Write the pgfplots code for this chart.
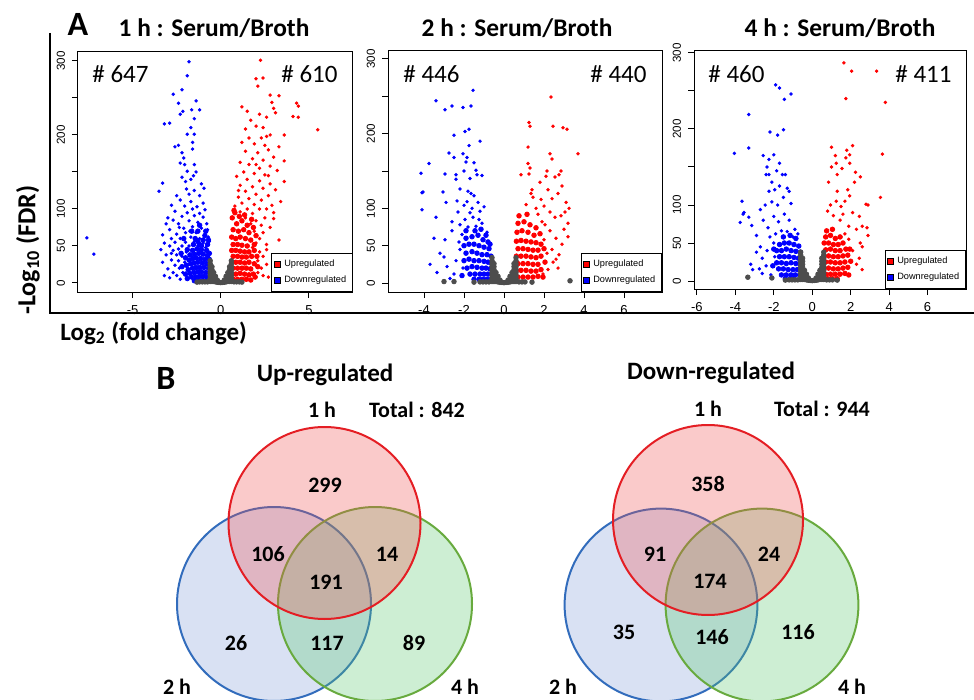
\documentclass[border=0pt]{standalone}
\usepackage{pgfplots}
\pgfplotsset{compat=1.18}
\usepackage{fontspec}
\setmainfont{Carlito}
\newfontfamily\arial{Liberation Sans}

\definecolor{rdot}{RGB}{255,0,0}
\definecolor{bdot}{RGB}{0,0,255}
\definecolor{gdot}{RGB}{77,77,77}
\definecolor{vred}{RGB}{228,30,36}
\definecolor{vblue}{RGB}{50,108,188}
\definecolor{vgreen}{RGB}{104,170,62}
\definecolor{fred}{RGB}{240,80,80}
\definecolor{fblue}{RGB}{80,120,200}
\definecolor{fgreen}{RGB}{90,200,110}

\pgfplotsset{
  volc/.style={
    scale only axis, anchor=south west,
    axis line style={line width=0.5pt},
    tick align=outside, xtick pos=bottom, ytick pos=left,
    major tick length=3pt,
    every tick/.style={black, line width=0.5pt},
    ytick={0,50,...,300}, yticklabels={0,50,100,{},200,{},300},
    xticklabel style={font=\arial\fontsize{6.5}{7}\selectfont},
    yticklabel style={font=\arial\fontsize{5.8}{6}\selectfont, rotate=90, anchor=south},
    legend style={at={(1,0)}, anchor=south east,
      font=\arial\fontsize{4.6}{5}\selectfont, draw=black, line width=0.4pt,
      inner sep=1.2pt, row sep=-0.8pt, cells={anchor=west}},
  },
  sp/.style={only marks, mark=*, mark size=0.65pt, forget plot},
  dn/.style={only marks, mark=*, mark size=1.15pt, forget plot},
}

\newcommand{\legendUD}{%
  \addlegendimage{only marks, mark=square*, mark size=1.5pt, mark options={fill=rdot, draw=black, line width=0.2pt}}
  \addlegendentry{Upregulated}
  \addlegendimage{only marks, mark=square*, mark size=1.5pt, mark options={fill=bdot, draw=black, line width=0.2pt}}
  \addlegendentry{Downregulated}}

\begin{document}
\begin{tikzpicture}
\path[use as bounding box] (0,0) rectangle (487pt,-350pt);

% ---------- 1 h ----------
\begin{axis}[volc, at={(39pt,-146pt)}, width=137.5pt, height=120.5pt,
  xmin=-8.1, xmax=7.5, ymin=-12.2, ymax=313.5,
  xtick={-5,0,5}, xticklabels={-5,0,5}]
\legendUD
\addplot[sp, bdot] coordinates {
(-7.6,61) (-7.2,39)
(-1.8,299) (-1.9,280) (-2.2,261) (-2.7,255) (-1.4,246) (-2.4,243) (-1.65,234) (-1.2,234) (-2.15,232) (-2.3,228)
(-3.2,215) (-2.9,216) (-1.5,222) (-1.7,210) (-1.5,201) (-1.9,201) (-2.4,186) (-2.6,184) (-1.6,190) (-1.6,181)
(-2.2,176) (-2.1,169) (-2.3,162) (-2.05,160) (-1.5,160) (-1.4,150) (-1.55,145) (-1.9,151) (-2.2,143) (-1.7,140)
(-3.3,135) (-3.5,124) (-2.0,137) (-1.95,127) (-1.1,134) (-0.95,128) (-1.5,125) (-1.8,120) (-2.5,118) (-1.2,118)
(-2.3,112) (-1.7,110) (-1.0,108) (-2.8,105) (-2.05,104) (-1.35,103) (-1.6,100) (-2.6,97) (-0.9,99) (-1.9,95)
(-1.2,94) (-3.0,88) (-2.7,85) (-2.2,90) (-1.5,91) (-1.0,89) (-3.1,80) (-2.4,80) (-1.8,84) (-1.3,82)
(-0.8,80) (-2.9,72) (-2.1,74) (-1.6,76) (-1.1,74) (-0.75,72) (-3.3,65) (-2.5,66) (-2.0,68) (-1.4,68)
(-0.9,66) (-2.8,60) (-2.3,60) (-1.7,62) (-1.2,60) (-0.7,62) (-3.2,54) (-2.6,55) (-2.0,55) (-1.5,56)
(-1.0,54) (-0.65,56) (-2.9,50) (-2.2,50) (-1.8,50) (-1.3,50) (-0.85,48) (-3.4,45) (-2.7,44) (-2.4,46)
(-3.1,38) (-2.5,38) (-2.8,31) (-3.3,28) (-2.6,24) (-3.0,19) (-2.7,14) (-3.2,10) (-2.9,7) (-2.4,30)
(-2.35,20) (-2.5,10) (-2.2,36) (-2.05,28) (-2.15,14) (-1.95,42) (-2.3,5) (-2.8,40) (-1.75,70) (-2.35,75)
};
\addplot[dn, bdot] coordinates {
(-1.9,45) (-1.6,44) (-1.35,46) (-1.1,45) (-0.8,44) (-0.65,40)
(-1.75,38) (-1.5,39) (-1.25,40) (-1.0,39) (-0.75,37)
(-2.0,34) (-1.8,31) (-1.6,33) (-1.4,34) (-1.15,33) (-0.9,32) (-0.65,32)
(-1.95,24) (-1.7,26) (-1.5,27) (-1.3,28) (-1.05,27) (-0.8,26) (-0.62,25)
(-1.85,18) (-1.6,20) (-1.4,21) (-1.2,21) (-0.95,21) (-0.7,20)
(-2.0,12) (-1.75,13) (-1.5,14) (-1.3,15) (-1.1,15) (-0.85,14) (-0.63,14)
(-1.9,6) (-1.65,8) (-1.4,8) (-1.2,9) (-1.0,9) (-0.78,8) (-0.62,7)
(-1.5,3) (-1.25,3) (-1.05,3) (-0.85,3) (-0.65,3)
(-1.0,58) (-1.2,52) (-0.75,52) (-1.45,60) (-0.9,64) (-1.3,70)
(-2.2,22) (-2.25,40) (-1.55,52) (-1.1,50) (-0.7,58) (-1.3,56) (-0.85,70) (-1.65,70) (-2.1,60) (-1.2,78)
};
\addplot[sp, rdot] coordinates {
(2.25,301) (2.0,276) (2.4,277) (2.1,266) (2.8,254) (3.3,253) (4.3,243) (4.4,239) (1.2,238) (4.1,225)
(4.4,224) (5.5,207) (2.9,244) (3.0,236) (1.5,232) (1.7,220) (2.2,228) (2.6,224) (3.1,230) (2.0,212)
(2.4,210) (1.4,208) (2.8,200) (3.6,200) (1.6,196) (2.3,196) (2.6,198) (1.2,190) (1.9,188) (2.5,186)
(3.3,184) (2.7,180) (1.4,178) (2.1,176) (3.0,170) (1.8,168) (2.4,166) (3.6,165) (1.1,163) (1.6,160)
(2.8,158) (2.2,155) (3.2,152) (1.3,150) (1.9,148) (2.5,146) (0.9,144) (1.5,140) (2.2,138) (3.6,137)
(2.8,134) (1.1,132) (1.8,130) (2.4,128) (3.1,126) (1.4,124) (2.0,120) (2.7,118) (1.0,116) (1.6,114)
(2.3,112) (1.2,108) (1.9,106) (2.9,105) (0.8,104) (1.5,100) (2.2,100) (3.0,95) (1.1,96) (1.8,94)
(3.0,87) (2.5,88) (2.0,84) (2.3,78) (2.8,75) (1.9,70) (2.4,68) (2.2,60) (3.3,58) (2.0,54)
(2.6,52) (1.8,48) (2.6,45) (2.2,42) (2.4,36) (2.1,30) (2.6,25) (2.3,20) (2.1,14) (2.4,10)
(2.7,8) (3.0,12) (1.7,80) (1.4,88) (2.6,100) (3.4,110) (1.0,125) (2.7,145) (2.0,160)
};
\addplot[dn, rdot] coordinates {
(0.65,88) (0.9,80) (1.2,84) (1.5,78)
(0.7,72) (1.0,70) (1.3,72) (1.6,68)
(0.62,62) (0.85,60) (1.1,62) (1.4,60) (1.7,58)
(0.7,52) (0.95,52) (1.2,51) (1.5,50)
(0.62,44) (0.85,44) (1.1,43) (1.35,42) (1.6,42) (1.9,44)
(0.7,36) (0.95,36) (1.2,35) (1.45,35) (1.75,36)
(0.62,28) (0.85,28) (1.1,28) (1.35,27) (1.6,28) (1.9,26)
(0.7,20) (0.95,20) (1.2,20) (1.45,20) (1.7,19)
(0.62,12) (0.85,12) (1.1,13) (1.35,12) (1.6,11) (1.85,12)
(0.7,5) (0.95,5) (1.2,5) (1.45,5) (1.7,4)
(0.8,95) (1.05,90) (1.35,92) (0.75,98) (1.75,86) (1.85,75) (2.0,64) (1.9,52) (2.05,36) (2.1,22) (1.95,8)
};
\addplot[dn, gdot] coordinates {
(-0.6,2) (-0.6,6) (-0.6,10) (-0.6,14) (-0.6,18) (-0.6,22) (-0.6,26) (-0.6,30)
(0.6,2) (0.6,6) (0.6,10) (0.6,14) (0.6,18) (0.6,22) (0.6,26) (0.6,30)
(-0.5,2) (-0.5,6) (-0.5,10) (-0.5,14) (-0.5,18) (-0.5,22)
(0.5,2) (0.5,6) (0.5,10) (0.5,14) (0.5,18) (0.5,22)
(-0.4,2) (-0.4,6) (-0.4,10) (-0.4,14) (0.4,2) (0.4,6) (0.4,10) (0.4,14)
(-0.3,1.5) (-0.3,5) (-0.3,9) (0.3,1.5) (0.3,5) (0.3,9)
(-0.2,1) (-0.2,4) (0.2,1) (0.2,4) (-0.1,0.8) (0.1,0.8) (0,0.5)
(-0.75,1.5) (-0.9,1.5) (-1.05,1.5) (-1.2,1.5) (-1.35,1.2) (0.75,1.5) (0.9,1.5) (1.05,1.5) (1.2,1.2)
};
\end{axis}

% ---------- 2 h ----------
\begin{axis}[volc, at={(194pt,-146pt)}, width=137pt, height=120.5pt,
  xmin=-5.8, xmax=7.9, ymin=-12, ymax=310.7,
  xtick={-4,-2,0,2,4,6}, xticklabels={-4,-2,0,2,4,6}]
\legendUD
\addplot[sp, bdot] coordinates {
(-1.55,258) (-3.4,244) (-2.6,237) (-2.95,232) (-2.05,235) (-1.65,237) (-1.75,206) (-1.95,203) (-2.5,198) (-1.2,190)
(-1.75,184) (-2.75,174) (-2.05,173) (-2.5,168) (-1.85,168) (-3.75,160) (-1.9,162) (-1.5,161) (-4.15,147) (-2.95,146)
(-2.4,145) (-2.4,139) (-1.4,151) (-1.35,145) (-1.1,144) (-4.05,122) (-4.1,121) (-3.05,122) (-4.1,98) (-3.4,88)
(-1.8,123) (-1.65,120) (-1.85,109) (-1.5,117) (-2.0,104) (-1.3,108) (-2.9,108) (-1.0,102) (-2.3,95) (-1.7,94)
(-2.95,58) (-3.0,35) (-3.2,40) (-2.6,70) (-2.2,78) (-2.85,22) (-2.4,30) (-2.5,12) (-2.7,6) (-2.2,45)
(-1.95,85) (-1.55,88) (-1.25,85) (-2.1,65) (-1.8,75) (-1.4,76) (-1.1,80) (-0.85,68) (-2.05,20) (-2.25,55)
(-1.6,100) (-1.2,96) (-2.6,82) (-2.35,110) (-2.0,150) (-1.7,140) (-2.2,126) (-3.5,60) (-3.7,25) (-3.35,14)
};
\addplot[dn, bdot] coordinates {
(-1.9,60) (-1.6,62) (-1.3,64) (-1.05,58) (-0.8,55)
(-2.0,50) (-1.75,52) (-1.5,52) (-1.25,50) (-1.0,48) (-0.75,46)
(-1.9,40) (-1.6,42) (-1.35,40) (-1.1,38) (-0.85,38) (-0.65,36)
(-2.0,30) (-1.75,32) (-1.5,30) (-1.25,30) (-1.0,29) (-0.8,28) (-0.62,26)
(-1.85,20) (-1.6,22) (-1.35,21) (-1.1,20) (-0.9,20) (-0.7,19)
(-1.7,12) (-1.45,12) (-1.2,12) (-1.0,12) (-0.8,12) (-0.62,12)
(-1.5,5) (-1.25,5) (-1.05,5) (-0.85,5) (-0.65,5)
(-2.1,10) (-1.9,70) (-1.45,70) (-1.15,72) (-0.9,64) (-0.7,52)
};
\addplot[sp, rdot] coordinates {
(2.35,249) (1.25,215) (1.3,210) (2.45,210) (2.95,208) (3.15,206) (1.2,182) (3.7,173) (2.3,173) (2.4,166)
(1.2,160) (1.3,154) (0.85,145) (1.25,146) (2.15,150) (2.1,143) (2.55,142) (2.85,150) (2.75,145) (2.9,130)
(1.4,125) (1.35,120) (1.45,115) (3.25,100) (3.1,108) (1.85,112) (2.0,103) (2.4,113) (2.7,120) (3.05,95)
(2.85,90) (3.2,80) (3.2,62) (2.55,88) (2.3,95) (2.05,78) (2.3,70) (2.6,60) (2.9,52) (2.4,45)
(2.0,58) (2.15,40) (2.45,28) (2.2,18) (1.95,12) (2.6,32) (1.7,92) (1.9,82) (3.0,72) (2.75,38)
(1.1,105) (1.6,100) (2.2,125) (1.8,135) (2.7,20)
};
\addplot[dn, rdot] coordinates {
(0.7,80) (1.0,82) (1.3,78) (1.6,74)
(0.65,68) (0.9,70) (1.2,68) (1.5,64) (1.8,66)
(0.62,56) (0.85,57) (1.1,56) (1.35,55) (1.6,54) (1.85,52)
(0.7,46) (0.95,46) (1.2,45) (1.45,44) (1.7,44)
(0.62,36) (0.85,36) (1.1,36) (1.35,35) (1.6,34) (1.85,36)
(0.7,26) (0.95,26) (1.2,26) (1.45,25) (1.7,25)
(0.62,17) (0.85,17) (1.1,17) (1.35,16) (1.6,16) (1.85,18)
(0.7,8) (0.95,8) (1.2,8) (1.45,8) (1.7,9)
(2.0,46) (2.05,28) (1.95,8) (0.75,90) (1.15,92)
};
\addplot[dn, gdot] coordinates {
(-0.6,2) (-0.6,6) (-0.6,10) (-0.6,14) (-0.6,18) (-0.6,22) (-0.6,26) (-0.6,30) (-0.6,34)
(0.6,2) (0.6,6) (0.6,10) (0.6,14) (0.6,18) (0.6,22) (0.6,26) (0.6,30) (0.6,34)
(-0.5,2) (-0.5,6) (-0.5,10) (-0.5,14) (-0.5,18) (-0.5,22) (-0.5,26)
(0.5,2) (0.5,6) (0.5,10) (0.5,14) (0.5,18) (0.5,22) (0.5,26)
(-0.4,2) (-0.4,6) (-0.4,10) (-0.4,14) (0.4,2) (0.4,6) (0.4,10) (0.4,14)
(-0.3,1.5) (-0.3,5) (-0.3,9) (0.3,1.5) (0.3,5) (0.3,9)
(-0.2,1) (-0.2,4) (0.2,1) (0.2,4) (-0.1,0.8) (0.1,0.8) (0,0.5)
(-0.75,1.5) (-0.9,1.5) (-1.05,1.5) (-1.2,1.5) (-1.5,1.2) (0.75,1.5) (0.9,1.5) (1.05,1.5) (1.4,1.2)
(3.3,3) (-2.5,2) (-3.0,2)
};
\end{axis}

% ---------- 4 h ----------
\begin{axis}[volc, at={(347pt,-144.5pt)}, width=136pt, height=119pt,
  xmin=-6.15, xmax=8.0, ymin=-10.5, ymax=302.6,
  xtick={-6,-4,-2,0,2,4,6}, xticklabels={-6,-4,-2,0,2,4,6}]
\legendUD
\addplot[sp, bdot] coordinates {
(-1.9,258) (-1.7,254) (-1.1,246) (-1.45,239) (-3.3,219) (-1.5,199) (-2.2,196) (-1.8,192) (-3.3,175) (-4.05,168)
(-2.0,166) (-2.55,165) (-2.25,160) (-2.35,150) (-1.7,155) (-2.4,140) (-2.25,140) (-1.85,145) (-1.55,140) (-1.4,140)
(-2.1,130) (-1.95,120) (-1.7,125) (-1.3,122) (-1.2,118) (-2.25,118) (-3.65,105) (-3.55,90) (-3.6,88) (-3.3,84)
(-3.75,77) (-3.15,73) (-2.7,94) (-2.45,100) (-2.1,104) (-1.8,100) (-1.5,110) (-1.1,102) (-2.55,80) (-2.3,70)
(-2.0,85) (-1.75,78) (-1.45,88) (-1.2,80) (-0.9,68) (-2.9,60) (-2.7,45) (-2.9,38) (-3.2,22) (-3.1,15)
(-2.6,30) (-2.4,20) (-2.6,10) (-2.2,58) (-1.9,62) (-1.6,66) (-1.3,65) (-2.35,40) (-2.0,50)
(-1.0,58) (-0.75,62) (-2.15,8) (-2.75,16) (-1.95,32)
};
\addplot[dn, bdot] coordinates {
(-1.7,48) (-1.45,50) (-1.2,50) (-0.95,48) (-0.7,46)
(-1.85,40) (-1.6,40) (-1.35,42) (-1.1,40) (-0.85,39) (-0.62,38)
(-1.7,32) (-1.45,32) (-1.2,32) (-0.95,31) (-0.72,30)
(-1.85,24) (-1.6,24) (-1.35,23) (-1.1,24) (-0.85,23) (-0.63,22)
(-1.75,16) (-1.5,16) (-1.25,15) (-1.0,15) (-0.78,15)
(-1.6,8) (-1.35,8) (-1.1,8) (-0.88,8) (-0.65,8)
(-1.4,3) (-1.15,3) (-0.95,3)
(-2.0,42) (-2.05,20) (-1.5,58) (-1.15,60) (-0.85,56)
};
\addplot[sp, rdot] coordinates {
(1.65,287) (2.05,276) (3.35,276) (1.75,240) (3.8,235) (2.1,178) (1.0,176) (1.8,172) (1.95,166) (1.75,162)
(3.65,167) (1.2,165) (1.25,155) (1.0,150) (1.55,148) (2.25,143) (1.95,155) (1.3,140) (2.5,137) (0.85,130)
(3.55,110) (2.8,101) (2.9,100) (1.85,120) (1.95,112) (1.7,105) (1.5,98) (1.25,105) (0.95,100) (2.1,90)
(1.6,88) (2.45,85) (2.6,72) (2.3,68) (2.85,70) (1.9,72) (1.45,80) (1.1,86) (2.5,50) (2.6,45)
(2.45,30) (2.3,22) (2.6,15) (2.1,40) (1.9,55) (1.7,62) (2.9,60) (0.8,92) (1.3,118) (2.2,130)
};
\addplot[dn, rdot] coordinates {
(0.7,58) (0.95,60) (1.2,56) (1.45,58)
(0.62,50) (0.85,50) (1.1,48) (1.35,48) (1.6,50)
(0.7,41) (0.95,42) (1.2,40) (1.45,40) (1.75,42)
(0.62,33) (0.85,33) (1.1,32) (1.35,32) (1.6,33) (1.85,34)
(0.7,25) (0.95,25) (1.2,24) (1.45,24) (1.7,25)
(0.62,17) (0.85,17) (1.1,16) (1.35,16) (1.6,17) (1.85,18)
(0.7,9) (0.95,9) (1.2,9) (1.45,9) (1.7,10)
(0.8,3) (1.05,3) (1.3,3)
(1.95,42) (2.0,26) (1.9,8) (0.75,66) (1.05,68)
};
\addplot[dn, gdot] coordinates {
(-0.6,2) (-0.6,6) (-0.6,10) (-0.6,14) (-0.6,18) (-0.6,22) (-0.6,26) (-0.6,30) (-0.6,34) (-0.6,38)
(0.6,2) (0.6,6) (0.6,10) (0.6,14) (0.6,18) (0.6,22) (0.6,26) (0.6,30) (0.6,34) (0.6,38)
(-0.5,2) (-0.5,6) (-0.5,10) (-0.5,14) (-0.5,18) (-0.5,22) (-0.5,26) (-0.5,30)
(0.5,2) (0.5,6) (0.5,10) (0.5,14) (0.5,18) (0.5,22) (0.5,26) (0.5,30)
(-0.4,2) (-0.4,6) (-0.4,10) (-0.4,14) (0.4,2) (0.4,6) (0.4,10) (0.4,14)
(-0.3,1.5) (-0.3,5) (-0.3,9) (0.3,1.5) (0.3,5) (0.3,9)
(-0.2,1) (-0.2,4) (0.2,1) (0.2,4) (-0.1,0.8) (0.1,0.8) (0,0.5)
(-0.75,1.5) (-0.9,1.5) (-1.05,1.5) (-1.2,1.5) (-1.4,1.2) (0.75,1.5) (0.9,1.5) (1.05,1.5) (1.3,1.2)
(-3.35,5) (-2.1,4)
};
\end{axis}

% ---------- Venn diagrams (B) ----------
\begin{axis}[scale only axis, anchor=south west, at={(0pt,-350pt)},
  width=487pt, height=175pt, xmin=0, xmax=974, ymin=0, ymax=350,
  hide axis, clip=false]
% up-regulated
\addplot[only marks, mark=*, mark size=48.5pt,
  mark options={draw=vblue, fill=fblue, fill opacity=0.22, line width=1pt}] coordinates {(274,96)};
\addplot[only marks, mark=*, mark size=48.5pt,
  mark options={draw=vgreen, fill=fgreen, fill opacity=0.3, line width=1pt}] coordinates {(375,96)};
\addplot[only marks, mark=*, mark size=48pt,
  mark options={draw=vred, fill=fred, fill opacity=0.3, line width=1pt}] coordinates {(324.5,177)};
% down-regulated
\addplot[only marks, mark=*, mark size=48.2pt,
  mark options={draw=vblue, fill=fblue, fill opacity=0.22, line width=1pt}] coordinates {(661,95)};
\addplot[only marks, mark=*, mark size=48.2pt,
  mark options={draw=vgreen, fill=fgreen, fill opacity=0.3, line width=1pt}] coordinates {(762,95)};
\addplot[only marks, mark=*, mark size=47.5pt,
  mark options={draw=vred, fill=fred, fill opacity=0.3, line width=1pt}] coordinates {(708,180)};
\end{axis}

% ---------- panel labels and texts (pixel positions) ----------
\begin{scope}[x=0.5pt, y=-0.5pt]
\draw[line width=1pt] (50,33) -- (50,313) -- (974,313);
\node[font=\bfseries\fontsize{17}{19}\selectfont] at (78,24) {A};
\node[font=\bfseries\fontsize{12.7}{14}\selectfont, anchor=base] at (214,37) {1 h : Serum/Broth};
\node[font=\bfseries\fontsize{12.7}{14}\selectfont, anchor=base] at (517,37) {2 h : Serum/Broth};
\node[font=\bfseries\fontsize{12.7}{14}\selectfont, anchor=base] at (840,37) {4 h : Serum/Broth};
\begin{scope}[font=\fontsize{12.5}{14}\selectfont, inner sep=0pt]
\node[anchor=base west] at (92,83) {\# 647};
\node[anchor=base west] at (281,83) {\# 610};
\node[anchor=base west] at (403,83) {\# 446};
\node[anchor=base west] at (590,83) {\# 440};
\node[anchor=base west] at (708,83) {\# 460};
\node[anchor=base west] at (895,83) {\# 411};
\end{scope}
\node[font=\bfseries\fontsize{13}{15}\selectfont, rotate=90] at (28,250) {-Log\textsubscript{10} (FDR)};
\node[font=\bfseries\fontsize{12.5}{14}\selectfont, anchor=base west, inner sep=0pt] at (60,340) {Log\textsubscript{2} (fold change)};

\node[font=\bfseries\fontsize{17}{19}\selectfont] at (166,378) {B};
\node[font=\bfseries\fontsize{12.5}{14}\selectfont] at (325,375) {Up-regulated};
\node[font=\bfseries\fontsize{12.5}{14}\selectfont] at (711,373) {Down-regulated};
\begin{scope}[font=\bfseries\fontsize{11}{13}\selectfont]
\node at (325,485) {299};
\node at (268,554) {106};
\node at (387,554) {14};
\node at (326,582) {191};
\node at (236,643) {26};
\node at (327,643) {117};
\node at (414,643) {89};
\node at (322,410) {1 h};
\node at (417,410) {Total : 842};
\node at (177,687) {2 h};
\node at (465,687) {4 h};
\node at (708,484) {358};
\node at (655,554) {91};
\node at (769,554) {24};
\node at (710,581) {174};
\node at (624,632) {35};
\node at (712,637) {146};
\node at (798,632) {116};
\node at (708,409) {1 h};
\node at (822,409) {Total : 944};
\node at (563,687) {2 h};
\node at (852,687) {4 h};
\end{scope}
\end{scope}
\end{tikzpicture}
\end{document}
